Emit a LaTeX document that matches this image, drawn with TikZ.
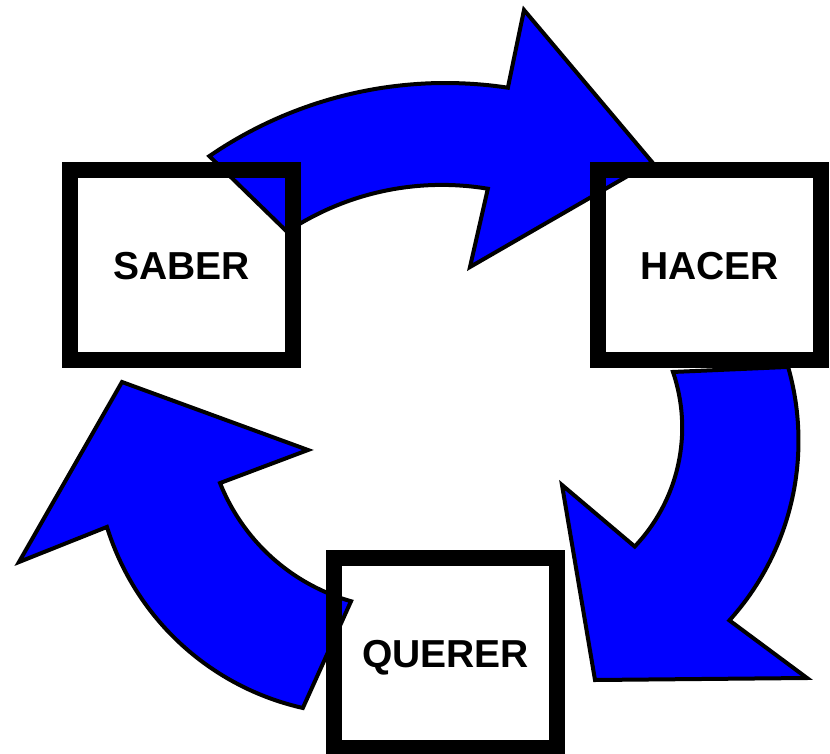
\documentclass[tikz,border=0pt]{standalone}
\usepackage{fontspec}
\setmainfont{Liberation Sans}
\begin{document}
\begin{tikzpicture}[x=1pt,y=-1pt,
  bigarrow/.style={draw=black,fill=arrowblue,line width=4pt,line join=miter},
  stage/.style={draw=black,line width=16pt,minimum width=223pt,minimum height=190pt,
    inner sep=0pt,text height=28pt,text depth=0pt,
    font=\bfseries\fontsize{39}{39}\selectfont}]
\definecolor{arrowblue}{RGB}{0,0,255}
\useasboundingbox (0,0) rectangle (830,754);
% top arrow: SABER -> HACER
\draw[bigarrow]
  plot[domain=0:1,samples=50] ({445.5+418*cos(-124.4+43*\x)},{501+418*sin(-124.4+43*\x)})
  -- (524,10) -- (652,162) -- (470,267)
  -- plot[domain=0:1,samples=50] ({441.8+279*cos(-80.5-43.2*\x)},{463.9+279*sin(-80.5-43.2*\x)})
  -- cycle;
% right arrow: HACER -> QUERER
\draw[bigarrow]
  plot[domain=0:1,samples=50] ({530.5+268*cos(-16+58.1*\x)},{440.8+268*sin(-16+58.1*\x)})
  -- (807,678) -- (595,680) -- (562,485)
  -- plot[domain=0:1,samples=50] ({509.4+172.8*cos(43.5-62.3*\x)},{427.6+172.8*sin(43.5-62.3*\x)})
  -- cycle;
% left arrow: QUERER -> SABER
\draw[bigarrow]
  plot[domain=0:1,samples=50] ({361.4+266.4*cos(102.7+60.1*\x)},{448.1+266.4*sin(102.7+60.1*\x)})
  -- (19,562) -- (122,382) -- (308,450)
  -- plot[domain=0:1,samples=50] ({405.4+199.5*cos(158.3-52.5*\x)},{409.3+199.5*sin(158.3-52.5*\x)})
  -- cycle;
% boxes
\node[stage] (saber) at (181.5,265) {SABER};
\node[stage] (hacer) at (709.5,265) {HACER};
\node[stage] (querer) at (445.5,653) {QUERER};
\end{tikzpicture}
\end{document}
